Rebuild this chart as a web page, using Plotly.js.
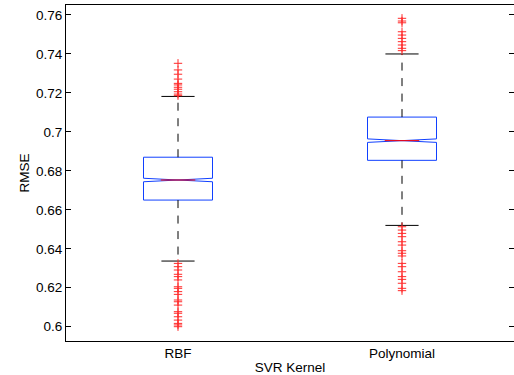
<!DOCTYPE html>
<html>
<head>
<meta charset="utf-8">
<script src="https://cdn.plot.ly/plotly-3.0.1.min.js"></script>
<style>
  html, body { margin: 0; padding: 0; background: #ffffff; }
  #chart { width: 514px; height: 375px; }
</style>
</head>
<body>
<div id="chart"></div>
<script>
// ---- data ----
var categories = ['RBF', 'Polynomial'];
var positions = [1, 2];
var q1 = [0.6650, 0.6854];
var medians = [0.6753, 0.6955];
var q3 = [0.6870, 0.7076];
var lowerWhisker = [0.6337, 0.6520];
var upperWhisker = [0.7182, 0.7400];
var notchSpan = [0.0009, 0.0009];

var rbfOutliers = [0.7352, 0.7318, 0.7296, 0.7271, 0.7249, 0.7241, 0.7229, 0.7219, 0.7206, 0.7194, 0.7186,
  0.6325, 0.6308, 0.6291, 0.6269, 0.6257, 0.6240, 0.6205, 0.6197, 0.6180, 0.6166,
  0.6137, 0.6128, 0.6111, 0.6077, 0.6069, 0.6051, 0.6034, 0.6017, 0.6009, 0.6000];
var polyOutliers = [0.7583, 0.7569, 0.7560, 0.7514, 0.7497, 0.7480, 0.7463, 0.7446, 0.7429, 0.7417,
  0.6513, 0.6496, 0.6479, 0.6462, 0.6436, 0.6419, 0.6390, 0.6377, 0.6363, 0.6325,
  0.6308, 0.6282, 0.6257, 0.6243, 0.6223, 0.6197, 0.6185];

var yTickVals = [0.6, 0.62, 0.64, 0.66, 0.68, 0.7, 0.72, 0.74, 0.76];
var yTickText = ['0.6', '0.62', '0.64', '0.66', '0.68', '0.7', '0.72', '0.74', '0.76'];

// ---- styles ----
var BOX_WIDTH = 0.308;
var NOTCH_WIDTH = 0.5;
var CAP_HALF = 0.074;
var FONT = 'Liberation Sans, Arial, Helvetica, sans-serif';

var traces = [];

// notched boxes (blue)
traces.push({
  type: 'box',
  x: positions,
  q1: q1,
  median: medians,
  q3: q3,
  lowerfence: q1,
  upperfence: q3,
  notchspan: notchSpan,
  notched: true,
  notchwidth: NOTCH_WIDTH,
  width: BOX_WIDTH,
  whiskerwidth: 0,
  boxpoints: false,
  fillcolor: 'rgba(0,0,0,0)',
  line: { color: '#1040ff', width: 1 },
  hoverinfo: 'skip',
  showlegend: false
});

// dashed whiskers (drawn from box outward)
var wx = [], wy = [];
positions.forEach(function (p, i) {
  wx.push(p, p, null, p, p, null);
  wy.push(q3[i], upperWhisker[i], null, q1[i], lowerWhisker[i], null);
});
traces.push({
  type: 'scatter', mode: 'lines', x: wx, y: wy,
  line: { color: '#000000', width: 1, dash: '8px,7.5px' },
  hoverinfo: 'skip', showlegend: false
});

// whisker caps
var cx = [], cy = [];
positions.forEach(function (p, i) {
  cx.push(p - CAP_HALF, p + CAP_HALF, null, p - CAP_HALF, p + CAP_HALF, null);
  cy.push(upperWhisker[i], upperWhisker[i], null, lowerWhisker[i], lowerWhisker[i], null);
});
traces.push({
  type: 'scatter', mode: 'lines', x: cx, y: cy,
  line: { color: '#000000', width: 1 },
  hoverinfo: 'skip', showlegend: false
});

// medians (red)
var mx = [], my = [];
var medHalf = BOX_WIDTH / 2 * (1 - NOTCH_WIDTH);
positions.forEach(function (p, i) {
  mx.push(p - medHalf, p + medHalf, null);
  my.push(medians[i], medians[i], null);
});
traces.push({
  type: 'scatter', mode: 'lines', x: mx, y: my,
  line: { color: '#ff0000', width: 1 },
  hoverinfo: 'skip', showlegend: false
});

// outliers
var outliers = [rbfOutliers, polyOutliers];
outliers.forEach(function (arr, i) {
  traces.push({
    type: 'scatter', mode: 'markers',
    x: arr.map(function () { return positions[i]; }),
    y: arr,
    marker: { symbol: 'cross-thin-open', size: 6, color: '#ff2a2a', line: { color: '#ff2a2a', width: 1 } },
    hoverinfo: 'skip', showlegend: false
  });
});

var layout = {
  width: 514, height: 375,
  margin: { l: 66, r: 0, t: 5, b: 34, pad: 0 },
  paper_bgcolor: '#ffffff', plot_bgcolor: '#ffffff',
  font: { family: FONT, size: 13.5, color: '#000000' },
  showlegend: false,
  xaxis: {
    range: [0.5, 2.5],
    tickvals: positions,
    ticktext: categories,
    ticks: '',
    showgrid: false, zeroline: false,
    showline: true, mirror: true, linecolor: '#000000', linewidth: 1,
    tickfont: { family: FONT, size: 13.5, color: '#000000' },
    title: { text: 'SVR Kernel', font: { family: FONT, size: 13.5, color: '#000000' }, standoff: 2 }
  },
  yaxis: {
    range: [0.59266, 0.76513],
    tickvals: yTickVals,
    ticktext: yTickText,
    ticks: 'inside', ticklen: 5, tickwidth: 1, tickcolor: '#000000',
    showgrid: false, zeroline: false,
    showline: true, mirror: 'ticks', linecolor: '#000000', linewidth: 1,
    tickfont: { family: FONT, size: 13.5, color: '#000000' },
    title: { text: 'RMSE', font: { family: FONT, size: 13.5, color: '#000000' } }
  }
};

Plotly.newPlot('chart', traces, layout, { staticPlot: true, displayModeBar: false });
</script>
</body>
</html>
